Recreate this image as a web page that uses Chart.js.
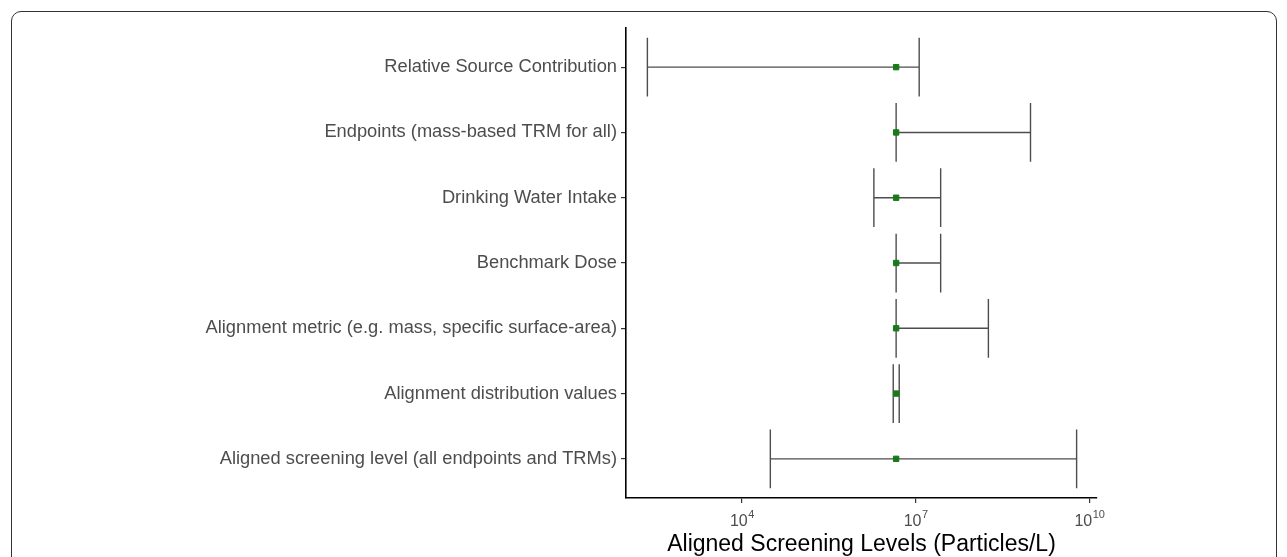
<!DOCTYPE html>
<html lang="en">
<head>
    <meta charset="UTF-8">
    <title>Aligned Screening Levels</title>
    <script src="https://cdn.jsdelivr.net/npm/chart.js"></script>
    <style>
        body {
            margin: 0;
            background: #fff;
            width: 1287px;
            height: 557px;
            overflow: hidden;
            position: relative;
        }
        .frame {
            position: absolute;
            left: 11px;
            top: 11px;
            width: 1264px;
            height: 620px;
            border: 1px solid #333;
            border-radius: 10px;
        }
        .chart-container {
            position: absolute;
            left: 0;
            top: 0;
            width: 1287px;
            height: 557px;
        }
    </style>
</head>
<body>
    <div class="frame"></div>
    <div class="chart-container">
        <canvas id="slChart"></canvas>
    </div>
    <script>
        const categories = [
            'Relative Source Contribution',
            'Endpoints (mass-based TRM for all)',
            'Drinking Water Intake',
            'Benchmark Dose',
            'Alignment metric (e.g. mass, specific surface-area)',
            'Alignment distribution values',
            'Aligned screening level (all endpoints and TRMs)'
        ];
        const estimate = [4.6e6, 4.6e6, 4.6e6, 4.6e6, 4.6e6, 4.6e6, 4.6e6];
        const lower = [234, 4.6e6, 1.9e6, 4.6e6, 4.6e6, 4.1e6, 3.1e4];
        const upper = [1.15e7, 9.6e8, 2.7e7, 2.7e7, 1.8e8, 5.2e6, 6.0e9];
        const xTicks = [1e4, 1e7, 1e10];
        const xTickExponents = ['4', '7', '10'];

        const font = "'Liberation Sans', Arial, sans-serif";

        // horizontal error bars with caps, drawn under the points
        const errorBars = {
            id: 'errorBars',
            beforeDatasetsDraw(chart) {
                const ctx = chart.ctx;
                const xs = chart.scales.x;
                const ys = chart.scales.y;
                ctx.save();
                ctx.strokeStyle = '#4d4d4d';
                ctx.lineWidth = 1.4;
                categories.forEach((c, i) => {
                    const x0 = xs.getPixelForValue(lower[i]);
                    const x1 = xs.getPixelForValue(upper[i]);
                    const y = ys.getPixelForValue(i);
                    const yt = ys.getPixelForValue(i - 0.45);
                    const yb = ys.getPixelForValue(i + 0.45);
                    ctx.beginPath();
                    ctx.moveTo(x0, y);
                    ctx.lineTo(x1, y);
                    ctx.moveTo(x0, yt);
                    ctx.lineTo(x0, yb);
                    ctx.moveTo(x1, yt);
                    ctx.lineTo(x1, yb);
                    ctx.stroke();
                });
                ctx.restore();
            }
        };

        // 10^n tick labels with a raised exponent
        const powerLabels = {
            id: 'powerLabels',
            afterDraw(chart) {
                const ctx = chart.ctx;
                const xs = chart.scales.x;
                const baseY = xs.top + 28;
                ctx.save();
                ctx.fillStyle = '#4d4d4d';
                ctx.textBaseline = 'alphabetic';
                ctx.textAlign = 'left';
                xTicks.forEach((v, k) => {
                    ctx.font = '16px ' + font;
                    const wb = ctx.measureText('10').width;
                    ctx.font = '11px ' + font;
                    const we = ctx.measureText(xTickExponents[k]).width;
                    const x = xs.getPixelForValue(v) - (wb + we) / 2;
                    ctx.font = '16px ' + font;
                    ctx.fillText('10', x, baseY);
                    ctx.font = '11px ' + font;
                    ctx.fillText(xTickExponents[k], x + wb + 0.5, baseY - 8);
                });
                ctx.restore();
            }
        };

        new Chart(document.getElementById('slChart').getContext('2d'), {
            type: 'scatter',
            data: {
                datasets: [{
                    data: estimate.map((v, i) => ({ x: v, y: i })),
                    pointStyle: 'rect',
                    pointRadius: 3.8,
                    pointBorderWidth: 1,
                    backgroundColor: '#177a17',
                    borderColor: '#177a17'
                }]
            },
            options: {
                responsive: true,
                maintainAspectRatio: false,
                animation: false,
                events: [],
                layout: { padding: { top: 28, right: 190, left: 0, bottom: 0 } },
                plugins: {
                    legend: { display: false },
                    tooltip: { enabled: false }
                },
                scales: {
                    x: {
                        type: 'logarithmic',
                        min: 100,
                        max: Math.pow(10, 10.13),
                        afterBuildTicks: (scale) => {
                            scale.ticks = xTicks.map(v => ({ value: v }));
                        },
                        afterFit: (scale) => { scale.height = 59; },
                        ticks: {
                            font: { family: font, size: 15 },
                            maxRotation: 0,
                            autoSkip: false,
                            callback: () => ''
                        },
                        grid: {
                            drawOnChartArea: false,
                            tickLength: 5,
                            color: '#333',
                            lineWidth: 1.2
                        },
                        border: { display: true, color: '#000', width: 1.6 },
                        title: {
                            display: true,
                            text: 'Aligned Screening Levels (Particles/L)',
                            color: '#000',
                            font: { family: font, size: 23 },
                            padding: { top: 0, bottom: -1 }
                        }
                    },
                    y: {
                        type: 'linear',
                        reverse: true,
                        min: -0.6,
                        max: 6.6,
                        afterBuildTicks: (scale) => {
                            scale.ticks = categories.map((c, i) => ({ value: i }));
                        },
                        afterFit: (scale) => { scale.width = 626; },
                        ticks: {
                            color: '#4d4d4d',
                            font: { family: font, size: 18.3 },
                            padding: 4,
                            autoSkip: false,
                            callback: (v) => categories[v] || ''
                        },
                        grid: {
                            drawOnChartArea: false,
                            tickLength: 5,
                            color: '#333',
                            lineWidth: 1.2
                        },
                        border: { display: true, color: '#000', width: 1.6 }
                    }
                }
            },
            plugins: [errorBars, powerLabels]
        });
    </script>
</body>
</html>
